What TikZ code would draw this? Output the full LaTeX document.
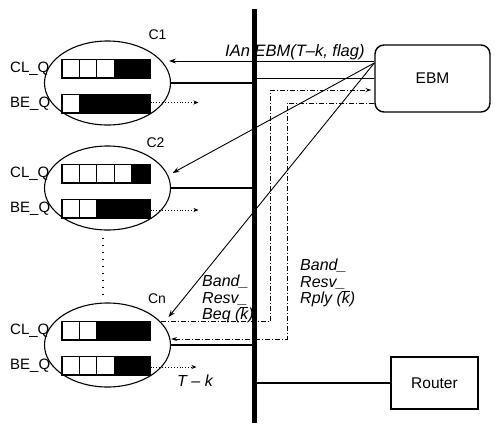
\documentclass[tikz,border=0pt]{standalone}
\usepackage{fontspec}
\setmainfont{Liberation Sans}
\usetikzlibrary{shapes.geometric,arrows.meta,calc}
\newcommand\myqueue[4]{%
  \node[qbox] (#1) at (#2,#3) {};
  \fill ($(#1.north west)+(#4*17.6pt,0pt)$) rectangle (#1.south east);
  \foreach \i in {1,...,#4}{\draw[line width=1pt] ($(#1.north west)+(\i*17.6pt,0pt)$) -- ($(#1.south west)+(\i*17.6pt,0pt)$);}
  \draw[line width=1pt] (#1.north west) rectangle (#1.south east);
}
\newcommand\kbar{$\overline{\mbox{\itshape k}}$}
\begin{document}
\begin{tikzpicture}[x=1pt,y=-1pt,
  client/.style={draw, ellipse, line width=1.1pt, minimum width=126pt, minimum height=84pt, inner sep=0pt},
  qbox/.style={draw, line width=1pt, minimum width=88pt, minimum height=18pt, inner sep=0pt},
  qlab/.style={font=\fontsize{15}{16}\selectfont, anchor=west, inner sep=0pt},
  clab/.style={font=\fontsize{14}{16}\selectfont, inner sep=0pt},
  link/.style={line width=2.6pt},
  thinlink/.style={line width=1.1pt},
  arr/.style={line width=0.9pt, -{Stealth[length=7pt,width=5pt,inset=2.5pt]}},
  dotarr/.style={line width=0.9pt, dotted, -{Stealth[length=5pt,width=4pt,inset=1.5pt]}},
  dashdot/.style={line width=0.9pt, dash pattern=on 5pt off 2pt on 1pt off 2pt},
  lab/.style={font=\fontsize{16}{16.5}\selectfont\itshape, align=left, inner sep=0pt},
]
\useasboundingbox (0,0) rectangle (495,423);
\fill[white] (0,0) rectangle (495,423);

% bus coordinates
\coordinate (bustop) at (254.5,9);
\coordinate (busbot) at (254.5,423);

% clients
\node[client] (C1) at (107.5,83) {};
\node[client] (C2) at (107.5,188) {};
\node[client] (Cn) at (107.5,345) {};
\node[clab] (lC1) at (157.5,35) {C1};
\node[clab] (lC2) at (155.5,143) {C2};
\node[clab] (lCn) at (157,299) {Cn};

% queues
\myqueue{q1c}{106}{68.5}{3}
\myqueue{q1b}{106}{103.5}{1}
\myqueue{q2c}{106}{173.5}{4}
\myqueue{q2b}{106}{208.5}{2}
\myqueue{qnc}{106}{330.5}{2}
\myqueue{qnb}{106}{365.5}{3}

\node[qlab] (l1c) at (10,68.5) {CL\_Q};
\node[qlab] (l1b) at (10,103.5) {BE\_Q};
\node[qlab] (l2c) at (10,173.5) {CL\_Q};
\node[qlab] (l2b) at (10,208.5) {BE\_Q};
\node[qlab] (lnc) at (10,330.5) {CL\_Q};
\node[qlab] (lnb) at (10,365.5) {BE\_Q};

% dotted arrows from BE queues
\draw[dotarr] ($(q1b.east)+(0,-1)$) -- ++(48,0);
\draw[dotarr] ($(q2b.east)+(0,1.5)$) -- ++(48,0);
\draw[dotarr] ($(qnb.east)+(0,1.5)$) -- ++(46,0);

% dots between C2 and Cn
\draw[line width=1.6pt, dash pattern=on 1.6pt off 5.4pt] ($(C2.south)+(-4.5,7)$) -- ($(Cn.north)+(-4.5,-3)$);

% EBM and Router
\node[draw, rounded corners=9pt, line width=1.4pt, minimum width=115pt, minimum height=67pt,
      font=\fontsize{15.5}{17}\selectfont] (EBM) at (432.5,78.5) {EBM};
\node[draw, line width=1.6pt, minimum width=87pt, minimum height=52pt,
      font=\fontsize{15.5}{17}\selectfont] (Router) at (434.5,383) {Router};

% links to bus
\draw[link] (C1.east) -- (C1.east -| bustop);
\draw[link] (C2.east) -- (C2.east -| bustop);
\draw[link] (Cn.east) -- (Cn.east -| bustop);
\draw[thinlink] (EBM.west) -- (EBM.west -| bustop);
\draw[thinlink] (Router.west) -- (Router.west -| bustop);

% messages from EBM
\coordinate (e0) at ($(EBM.west)+(0,-15.5)$);
\draw[arr] ($(EBM.west)+(0,-17.5)$) -- ($(C1.east)+(-2,-22)$);
\draw[arr] (e0) -- ($(C2.east)+(1.5,-15)$);
\draw[arr] (e0) -- ($(Cn.east)+(-2.5,-28)$);

% bandwidth reservation request / reply
\draw[dashdot, -{Stealth[length=6pt,width=4pt,inset=2pt]}] ($(Cn.east)+(-10,-24)$) -- ++(109.5,0) |- ($(EBM.west)+(-3,11.5)$);
\draw[dashdot, -{Stealth[length=6pt,width=4pt,inset=2pt]}] ($(EBM.west)+(0,24.5)$) -| ++(-87,236) -- ($(Cn.east)+(0,-6)$);

% labels
\node[font=\fontsize{16.5}{18}\selectfont\itshape, anchor=base west, inner sep=0pt] (top) at (225,56.5) {IAn EBM(T–k, flag)};
\node[lab, anchor=north west] (req) at (202,275) {Band\_\\Resv\_\\Beq (\kbar)};
\node[lab, anchor=north west] (rply) at (300,259) {Band\_\\Resv\_\\Rply (\kbar)};
\node[lab] (tk) at (195,381) {T – k};

% bus
\draw[line width=5pt] (bustop) -- (busbot);
\end{tikzpicture}
\end{document}
